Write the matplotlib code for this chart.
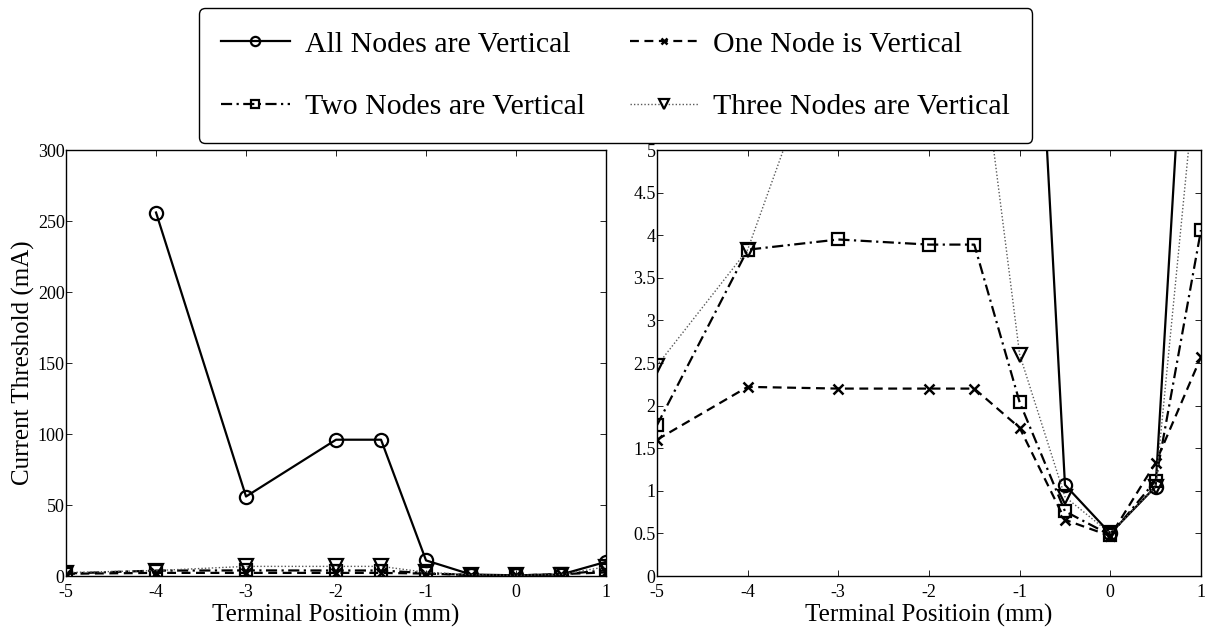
import numpy as np
import matplotlib
matplotlib.use("Agg")
import matplotlib.pyplot as plt

plt.rcParams['font.family'] = ['Liberation Serif', 'DejaVu Serif']
plt.rcParams['axes.unicode_minus'] = False

# terminal positions [mm]
position = [-5, -4, -3, -2, -1.5, -1, -0.5, 0, 0.5, 1]

# current thresholds [mA]
all_nodes = [np.nan, 256, 56, 96, 96, 11, 1.07, 0.5, 1.05, 10]
one_node = [1.6, 2.22, 2.2, 2.2, 2.2, 1.74, 0.66, 0.47, 1.33, 2.57]
two_nodes = [1.77, 3.83, 3.95, 3.89, 3.89, 2.04, 0.76, 0.48, 1.12, 4.06]
three_nodes = [2.47, 3.83, 6.8, 6.8, 6.8, 2.6, 0.93, 0.5, 1.05, 6.5]

labels = ['All Nodes are Vertical', 'One Node is Vertical',
          'Two Nodes are Vertical', 'Three Nodes are Vertical']

x_ticks = [-5, -4, -3, -2, -1, 0, 1]
left_yticks = [0, 50, 100, 150, 200, 250, 300]
right_yticks = [0, 0.5, 1, 1.5, 2, 2.5, 3, 3.5, 4, 4.5, 5]
right_ylabels = ['0', '0.5', '1', '1.5', '2', '2.5', '3', '3.5', '4', '4.5', '5']

fig = plt.figure(figsize=(12.07, 6.33), dpi=100)
ax1 = fig.add_axes([0.0547, 0.0900, 0.4474, 0.6730])
ax2 = fig.add_axes([0.5443, 0.0900, 0.4507, 0.6730])

def draw(ax):
    l1, = ax.plot(position, all_nodes, '-', color='k', lw=1.6, marker='o',
                  ms=9.5, mfc='none', mec='k', mew=1.6)
    l2, = ax.plot(position, one_node, color='k', lw=1.6, ls=(0, (4, 2.5)),
                  marker='x', ms=7, mew=1.8)
    l3, = ax.plot(position, two_nodes, color='k', lw=1.6, ls=(0, (5, 2, 1, 2)),
                  marker='s', ms=8, mfc='none', mec='k', mew=1.6)
    l4, = ax.plot(position, three_nodes, color='0.35', lw=1.0, ls=(0, (1, 1.5)),
                  marker='v', ms=10, mfc='none', mec='k', mew=1.6)
    ax.set_xlim(-5, 1)
    ax.set_xticks(x_ticks)
    ax.tick_params(direction='in', top=True, right=True, length=4, width=0.6,
                   labelsize=13)
    ax.tick_params(axis='x', pad=6)
    ax.tick_params(axis='y', pad=1)
    for s in ax.spines.values():
        s.set_linewidth(1.0)
    ax.set_xlabel('Terminal Positioin (mm)', fontsize=18, labelpad=2)
    return [l1, l2, l3, l4]

handles = draw(ax1)
ax1.set_ylim(0, 300)
ax1.set_yticks(left_yticks)
ax1.set_ylabel('Current Threshold (mA)', fontsize=18, labelpad=2)

draw(ax2)
ax2.set_ylim(0, 5)
ax2.set_yticks(right_yticks)
ax2.set_yticklabels(right_ylabels)

# legend fills column by column: order so rows read All/One, Two/Three
order = [0, 2, 1, 3]
leg = fig.legend([handles[i] for i in order], [labels[i] for i in order],
                 ncol=2, loc='upper center', bbox_to_anchor=(0.510, 0.987),
                 borderaxespad=0, fontsize=21.5, handlelength=2.3,
                 handletextpad=0.5, columnspacing=1.5, labelspacing=1.2,
                 borderpad=0.75, markerscale=0.7, fancybox=True,
                 edgecolor='k', framealpha=1)
leg.get_frame().set_linewidth(1.0)

fig.savefig('out.png', dpi=100)
